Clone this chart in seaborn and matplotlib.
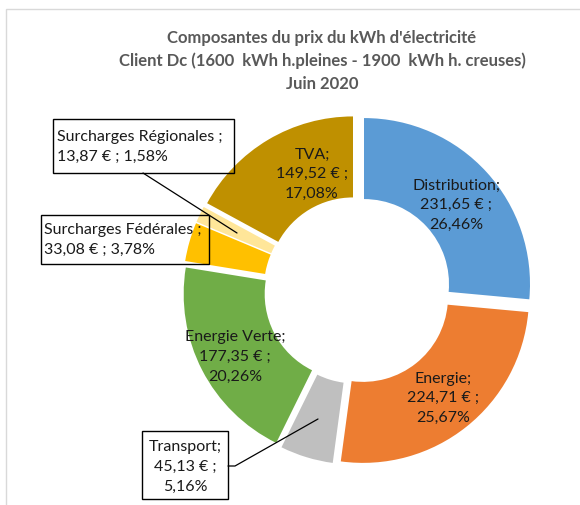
import matplotlib
matplotlib.use("Agg")
import matplotlib.pyplot as plt
import matplotlib.font_manager as fm
from matplotlib.patches import Rectangle
import seaborn as sns

categories = ["Distribution", "Energie", "Transport", "Energie Verte",
              "Surcharges Fédérales", "Surcharges Régionales", "TVA"]
montants = ["231,65", "224,71", "45,13", "177,35", "33,08", "13,87", "149,52"]
parts = [26.46, 25.67, 5.16, 20.26, 3.78, 1.58, 17.08]
couleurs = ["#5B9BD5", "#ED7D31", "#BFBFBF", "#70AD47", "#FFC000", "#FFE699", "#BF9000"]

sns.set_theme(style="white")
noms = {f.name for f in fm.fontManager.ttflist}
police = "Liberation Sans Narrow" if "Liberation Sans Narrow" in noms else "Lato"
plt.rcParams["font.family"] = [police, "DejaVu Sans"]

W, H = 580, 506
fig = plt.figure(figsize=(5.8, 5.06), dpi=100)
ax = fig.add_axes([0, 0, 1, 1])

def py(y):
    # pixel y (from top) -> data y
    return H - y

ax.pie(parts, colors=couleurs, startangle=90, counterclock=False,
       radius=166, center=(357.5, py(291)), explode=[8.8] * len(parts),
       wedgeprops=dict(width=81, edgecolor="none"))
ax.set_xlim(0, W)
ax.set_ylim(0, H)
ax.set_aspect("auto")
ax.axis("off")

# cadre du graphique
fig.patches.append(Rectangle((6 / W, -0.1), 1.1, py(10) / H + 0.1, transform=fig.transFigure,
                             fill=False, edgecolor="#D9D9D9", lw=1))

ax.text(322, py(61), "Composantes du prix du kWh d'électricité\n"
        "Client Dc (1600  kWh h.pleines - 1900  kWh h. creuses)\nJuin 2020",
        ha="center", va="center", fontsize=12, fontweight="bold", color="#595959",
        linespacing=1.5)

def etiquette(i):
    return categories[i], montants[i] + " €", f"{parts[i]:.2f}".replace(".", ",") + "%"

txt = dict(fontsize=11.5, color="#1A1A1A", linespacing=1.5, va="center")

# étiquettes internes
for i, (x, y) in {0: (456, 205), 1: (443, 398), 3: (235, 357), 6: (312, 174)}.items():
    nom, eur, pct = etiquette(i)
    ax.text(x, py(y), f"{nom};\n{eur} ;\n{pct}", ha="center", **txt)

# étiquettes encadrées
def boite(x0, y0, x1, y1):
    ax.add_patch(Rectangle((x0, py(y1)), x1 - x0, y1 - y0, fill=False, edgecolor="black", lw=1))

nom, eur, pct = etiquette(5)
boite(53, 120, 234, 174)
ax.text(57, py(147), f"{nom} ;\n{eur} ; {pct}", ha="left", **txt)
ax.plot([143, 237], [py(174), py(234)], color="black", lw=0.9)

nom, eur, pct = etiquette(4)
boite(41, 216, 209, 265)
ax.text(44, py(240), f"{nom} ;\n{eur} ; {pct}", ha="left", **txt)

nom, eur, pct = etiquette(2)
boite(142, 432, 228, 500)
ax.text(185, py(467), f"{nom};\n{eur} ;\n{pct}", ha="center", **txt)
ax.plot([228, 235, 318], [py(467), py(467), py(420)], color="black", lw=0.9)

fig.savefig("out.png", dpi=100)
